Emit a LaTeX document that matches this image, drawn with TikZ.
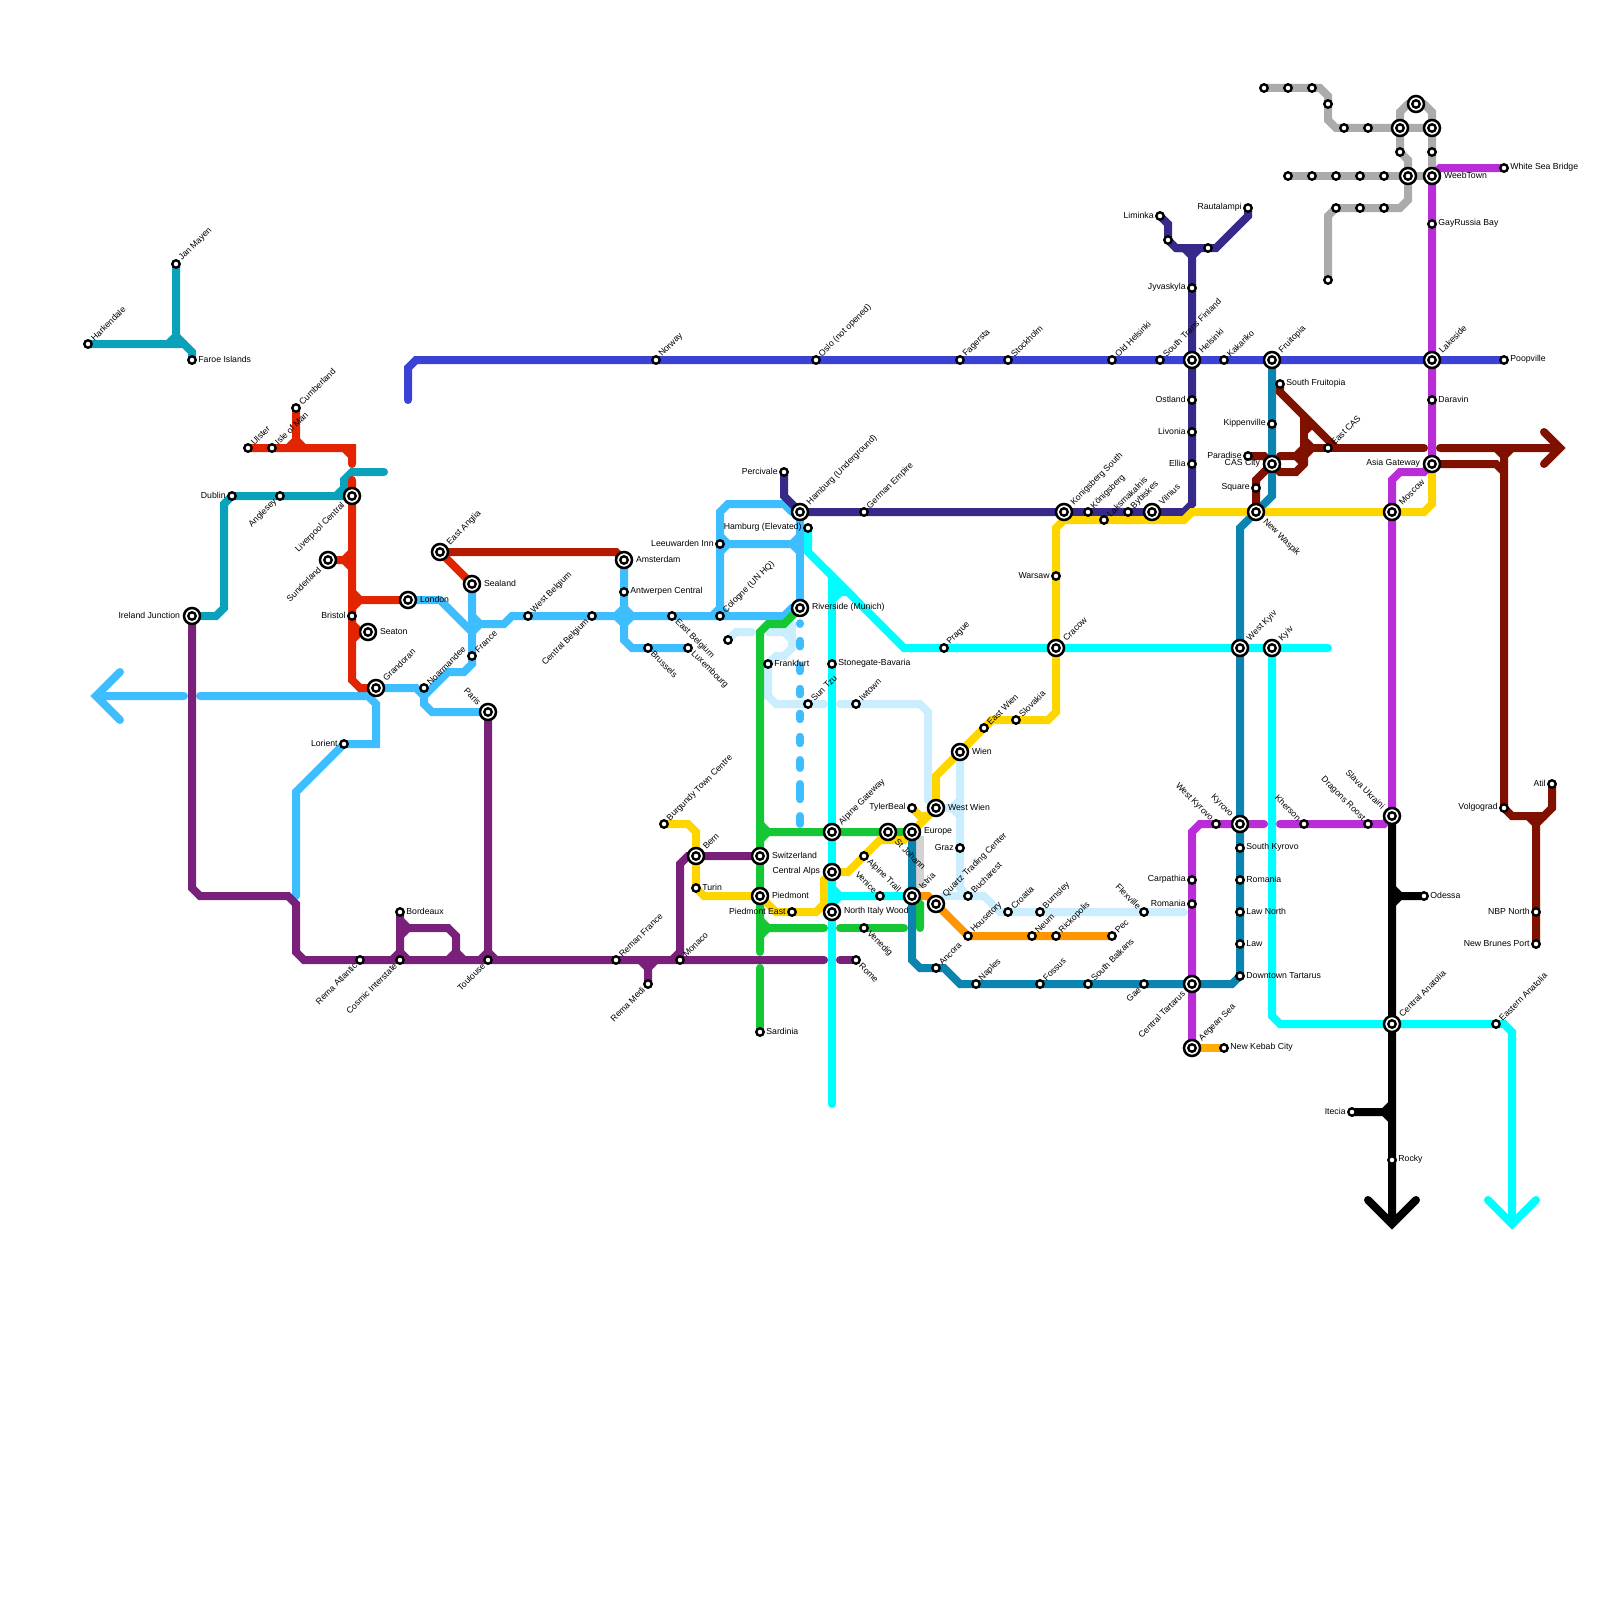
\documentclass[tikz,border=0pt]{standalone}
\usepackage{fontspec}
\setmainfont{Liberation Sans}
\usetikzlibrary{backgrounds}
\definecolor{cteal}{HTML}{0AA1BB}
\definecolor{cred}{HTML}{E32400}
\definecolor{cdred}{HTML}{B51A00}
\definecolor{croyal}{HTML}{3A41D3}
\definecolor{cnavy}{HTML}{352A8A}
\definecolor{clblue}{HTML}{3EBEFF}
\definecolor{cpale}{HTML}{CBEEFF}
\definecolor{cgreen}{HTML}{15C735}
\definecolor{ccyan}{HTML}{00FDFF}
\definecolor{cyellow}{HTML}{FFD500}
\definecolor{cpurple}{HTML}{79207A}
\definecolor{cviolet}{HTML}{B92DD6}
\definecolor{cgray}{HTML}{ABABAB}
\definecolor{clgray}{HTML}{D3D3D3}
\definecolor{cpetrol}{HTML}{0B85B0}
\definecolor{corange}{HTML}{FF9500}
\definecolor{camber}{HTML}{FFAB00}
\definecolor{cmaroon}{HTML}{801000}
\tikzset{
  x=8pt,y=-8pt,
  ln/.style={line width=8pt,line cap=round,line join=miter},
  smst/.style={circle,draw=black,fill=white,line width=2.4pt,minimum size=7.4pt,inner sep=0pt},
  bgst/.style={circle,draw=black,fill=white,line width=2.5pt,minimum size=16pt,inner sep=0pt},
  lab/.style={font=\fontsize{8.7}{10}\selectfont,text=black,inner sep=0pt},
}
\newcommand\lbR[3]{\path (#1.center) ++(0:#2) node[lab,anchor=west,yshift=.6pt] (#1-t) {#3};}
\newcommand\lbL[3]{\path (#1.center) ++(180:#2) node[lab,anchor=east,yshift=.6pt] (#1-t) {#3};}
\newcommand\lbUR[3]{\path (#1.center) ++(45:#2) node[lab,rotate=45,anchor=west] (#1-t) {#3};}
\newcommand\lbLL[3]{\path (#1.center) ++(225:#2) node[lab,rotate=45,anchor=east] (#1-t) {#3};}
\newcommand\lbLR[3]{\path (#1.center) ++(-45:#2) node[lab,rotate=-45,anchor=west] (#1-t) {#3};}
\newcommand\lbUL[3]{\path (#1.center) ++(135:#2) node[lab,rotate=-45,anchor=east] (#1-t) {#3};}
\newcommand\st[4]{\node[smst] (#1) at (#2) {};\csname lb#3\endcsname{#1}{6.2pt}{#4}}
\newcommand\bg[4]{\node[bgst] (#1) at (#2) {};\node[smst] (#1-i) at (#2) {};\csname lb#3\endcsname{#1}{11.8pt}{#4}}
\newcommand\stn[2]{\node[smst] (#1) at (#2) {};}
\newcommand\bgn[2]{\node[bgst] (#1) at (#2) {};\node[smst] (#1-i) at (#2) {};}
\begin{document}
\begin{tikzpicture}
\useasboundingbox (0,0) rectangle (200,200);
% ---- stations ----
\st{hark}{11,43}{UR}{Harkendale}
\st{jan}{22,33}{UR}{Jan Mayen}
\st{faroe}{24,45}{R}{Faroe Islands}
\st{cumb}{37,51}{UR}{Cumberland}
\st{ulster}{31,56}{UR}{Ulster}
\st{isle}{34,56}{UR}{Isle of Man}
\st{dublin}{29,62}{L}{Dublin}
\st{angl}{35,62}{LL}{Anglesey}
\bg{liver}{44,62}{LL}{Liverpool Central}
\bg{sund}{41,70}{LL}{Sunderland}
\st{bristol}{44,77}{L}{Bristol}
\bg{seaton}{46,79}{R}{Seaton}
\bg{london}{51,75}{R}{London}
\bg{ireland}{24,77}{L}{Ireland Junction}
\bg{grand}{47,86}{UR}{Grandoran}
\st{noar}{53,86}{UR}{Noarmandee}
\bg{eangl}{55,69}{UR}{East Anglia}
\bg{sealand}{59,73}{R}{Sealand}
\st{france}{59,82}{UR}{France}
\bg{paris}{61,89}{UL}{Paris}
\st{wbelg}{66,77}{UR}{West Belgium}
\st{cbelg}{74,77}{LL}{Central Belgium}
\st{lorient}{43,93}{L}{Lorient}
\st{bord}{50,114}{R}{Bordeaux}
\st{ratl}{45,120}{LL}{Rema Atlantic}
\st{cosmic}{50,120}{LL}{Cosmic Interstate}
\st{toul}{61,120}{LL}{Toulouse}
\st{reman}{77,120}{UR}{Reman France}
\st{rmedi}{81,123}{LL}{Rema Medi}
\st{monaco}{85,120}{UR}{Monaco}
\bg{amst}{78,70}{R}{Amsterdam}
\st{antw}{78,74}{R}{Antwerpen Central}
\st{norway}{82,45}{UR}{Norway}
\st{ebelg}{84,77}{LR}{East Belgium}
\st{bruss}{81,81}{LR}{Brussels}
\st{lux}{86,81}{LR}{Luxembourg}
\st{cologne}{90,77}{UR}{Cologne (UN HQ)}
\st{leeu}{90,68}{L}{Leeuwarden Inn}
\st{hamel}{101,66}{L}{Hamburg (Elevated)}
\bg{hamun}{100,64}{UR}{Hamburg (Underground)}
\st{perc}{98,59}{L}{Percivale}
\st{german}{108,64}{UR}{German Empire}
\st{oslo}{102,45}{UR}{Oslo (not opened)}
\bg{river}{100,76}{R}{Riverside (Munich)}
\stn{unlp}{91,80}
\st{frank}{96,83}{R}{Frankfurt}
\st{stone}{104,83}{R}{Stonegate-Bavaria}
\st{suntzu}{101,88}{UR}{Sun Tzu}
\st{iwtown}{107,88}{UR}{Iwtown}
\st{prague}{118,81}{UR}{Prague}
\st{fager}{120,45}{UR}{Fagersta}
\st{stock}{126,45}{UR}{Stockholm}
\st{oldhel}{139,45}{UR}{Old Helsinki}
\st{strans}{145,45}{UR}{South Trans Finland}
\bg{helsinki}{149,45}{UR}{Helsinki}
\st{kaka}{153,45}{UR}{Kakariko}
\bg{fruit}{159,45}{UR}{Fruitopia}
\bg{lake}{179,45}{UR}{Lakeside}
\st{poop}{188,45}{R}{Poopville}
\st{limin}{145,27}{L}{Liminka}
\stn{unla}{146,30}
\stn{unlb}{151,31}
\st{rauta}{156,26}{L}{Rautalampi}
\st{jyva}{149,36}{L}{Jyvaskyla}
\st{ostl}{149,50}{L}{Ostland}
\st{livo}{149,54}{L}{Livonia}
\st{ellia}{149,58}{L}{Ellia}
\st{kipp}{159,53}{L}{Kippenville}
\st{sfruit}{160,48}{R}{South Fruitopia}
\st{dara}{179,50}{R}{Daravin}
\st{gayr}{179,28}{R}{GayRussia Bay}
\bg{weeb}{179,22}{R}{WeebTown}
\st{white}{188,21}{R}{White Sea Bridge}
\st{ecas}{166,56}{UR}{East CAS}
\st{para}{156,57}{L}{Paradise}
\bg{cas}{159,58}{L}{CAS City}
\st{square}{157,61}{L}{Square}
\bg{waspik}{157,64}{LR}{New Waspik}
\bg{asia}{179,58}{L}{Asia Gateway}
\bg{moscow}{174,64}{UR}{Moscow}
\bg{vilnius}{144,64}{UR}{Vilnius}
\st{bybi}{141,64}{UR}{Bybiskes}
\st{laks}{138,65}{UR}{Laksmakalnis}
\st{konig}{136,64}{UR}{Königsberg}
\bg{konigs}{133,64}{UR}{Konigsberg South}
\st{warsaw}{132,72}{L}{Warsaw}
\bg{cracow}{132,81}{UR}{Cracow}
\bg{wkyiv}{155,81}{UR}{West Kyiv}
\bg{kyiv}{159,81}{UR}{Kyiv}
\st{slovak}{127,90}{UR}{Slovakia}
\st{ewien}{123,91}{UR}{East Wien}
\bg{wien}{120,94}{R}{Wien}
\bg{wwien}{117,101}{R}{West Wien}
\st{tyler}{114,101}{L}{TylerBeal}
\bg{europe}{114,104}{R}{Europe}
\bg{johann}{111,104}{LR}{St Johann}
\bg{alpgw}{104,104}{UR}{Alpine Gateway}
\st{alptr}{108,107}{LR}{Alpine Trail}
\st{graz}{120,106}{L}{Graz}
\bg{bern}{87,107}{UR}{Bern}
\st{burg}{83,103}{UR}{Burgundy Town Centre}
\bg{swiss}{95,107}{R}{Switzerland}
\bg{calps}{104,109}{L}{Central Alps}
\st{turin}{87,111}{R}{Turin}
\bg{piedm}{95,112}{R}{Piedmont}
\st{piede}{99,114}{L}{Piedmont East}
\bg{nitaly}{104,114}{R}{North Italy Wood}
\st{venice}{110,112}{UL}{Venice}
\bg{istria}{114,112}{UR}{Istria}
\bg{quartz}{117,113}{UR}{Quartz Trading Center}
\st{buch}{121,112}{UR}{Bucharest}
\st{croat}{126,114}{UR}{Croatia}
\st{burn}{130,114}{UR}{Burnsley}
\st{neum}{129,117}{UR}{Neum}
\st{rick}{132,117}{UR}{Rickopolis}
\st{pec}{139,117}{UR}{Pec}
\st{house}{121,117}{UR}{Housetory}
\st{vene}{108,116}{LR}{Venedig}
\st{rome}{107,120}{LR}{Rome}
\st{ancora}{117,121}{UR}{Ancora}
\st{naples}{122,123}{UR}{Naples}
\st{fossus}{130,123}{UR}{Fossus}
\st{sbalk}{136,123}{UR}{South Balkans}
\st{gae}{143,123}{LL}{Gae}
\bg{ctart}{149,123}{LL}{Central Tartarus}
\bg{aegean}{149,131}{UR}{Aegean Sea}
\st{kebab}{153,131}{R}{New Kebab City}
\st{wkyr}{152,103}{UL}{West Kyrovo}
\bg{kyrovo}{155,103}{UL}{Kyrovo}
\st{skyr}{155,106}{R}{South Kyrovo}
\st{romr}{155,110}{R}{Romania}
\st{carp}{149,110}{L}{Carpathia}
\st{roml}{149,113}{L}{Romania}
\st{lawn}{155,114}{R}{Law North}
\st{law}{155,118}{R}{Law}
\st{dtart}{155,122}{R}{Downtown Tartarus}
\st{flex}{143,114}{UL}{Flexville}
\st{kherson}{163,103}{UL}{Kherson}
\st{dragon}{171,103}{UL}{Dragons Roost}
\bg{slava}{174,102}{UL}{Slava Ukraini}
\bg{canat}{174,128}{UR}{Central Anatolia}
\st{eanat}{187,128}{UR}{Eastern Anatolia}
\st{odessa}{178,112}{R}{Odessa}
\st{volgo}{188,101}{L}{Volgograd}
\st{atil}{194,98}{L}{Atil}
\st{nbp}{192,114}{L}{NBP North}
\st{brunes}{192,118}{L}{New Brunes Port}
\st{sard}{95,129}{R}{Sardinia}
\st{itecia}{169,139}{L}{Itecia}
\st{rocky}{174,145}{R}{Rocky}
% gray line stations
\stn{ga}{158,11}\stn{gb}{161,11}\stn{gc}{164,11}\stn{gd}{166,13}
\stn{ge}{168,16}\stn{gf}{171,16}\bgn{gg}{175,16}\bgn{gh}{177,13}\bgn{gi}{179,16}
\stn{gj}{175,19}\stn{gk}{179,19}\bgn{gl}{176,22}
\stn{gm}{161,22}\stn{gn}{164,22}\stn{go}{167,22}\stn{gp}{170,22}\stn{gq}{173,22}
\stn{gr}{167,26}\stn{gs}{170,26}\stn{gt}{173,26}\stn{gu}{166,35}
% ---- lines ----
\begin{pgfonlayer}{background}
\fill[white] (0,0) rectangle (200,200);
% pale
\draw[ln,cpale] (unlp.center) -- (92,79) -- (94,79);
\draw[ln,cpale] (96,79) -- (98,79) -- (99,80) -- (99,81) -- (98,82) -- (97,82) -- (frank.center) -- (96,87) -- (97,88) -- (103,88);
\draw[ln,cpale] (99,81) -- (99,78);
\draw[ln,cpale] (99,78) -- (98,79);
\draw[ln,cpale] (105,88) -- (115,88) -- (116,89) -- (116,100) -- (wwien.center);
\draw[ln,cpale] (wien.center) -- (120,111) -- (buch.center) -- (123,112) -- (125,114) -- (148,114);
\draw[ln,cpale] (118,112) -- (buch.center);
\draw[ln,cpale] (wwien.center) -- (119,101) -- (120,100) (119,101) -- (120,102);
% greys
\draw[line width=8pt,clgray] (115,104.5) -- (115,111);
\draw[ln,cgray] (ga.center) -- (165,11) -- (166,12) -- (166,15) -- (167,16) -- (gi.center);
\draw[ln,cgray] (gg.center) -- (175,14) -- (176,13) -- (178,13) -- (179,14) -- (weeb.center);
\draw[ln,cgray] (gg.center) -- (gj.center) -- (176,20) -- (176,25) -- (175,26) -- (167,26) -- (166,27) -- (gu.center);
\draw[ln,cgray] (gm.center) -- (weeb.center);
% light blue
\draw[ln,clblue] (london.center) -- (55,75) -- (59,79) -- (60,78) -- (63,78) -- (64,77) -- (98,77) -- (99,76) -- (river.center);
\draw[ln,clblue] (sealand.center) -- (59,83) -- (58,84) -- (56,84) -- (53,87);
\draw[ln,clblue] (59,77) -- (60,78);
\draw[ln,clblue] (grand.center) -- (52,86) -- (53,87);
\draw[ln,clblue] (noar.center) -- (53,88) -- (54,89) -- (paris.center);
\draw[ln,clblue] (25,87) -- (46,87) -- (47,88) -- (47,93) -- (lorient.center) -- (37,99) -- (37,112);
\draw[ln,clblue] (15,84) -- (12,87) -- (15,90) (12,87) -- (23,87);
\draw[ln,clblue] (amst.center) -- (78,80) -- (79,81) -- (lux.center);
\draw[ln,clblue,fill=clblue] (77,77) -- (78,76) -- (79,77) -- (78,78) -- cycle;
\draw[ln,clblue] (89,77) -- (90,76) -- (90,64) -- (91,63) -- (98,63) -- (99,64);
\draw[ln,clblue] (90,76) -- (91,77);
\draw[ln,clblue] (90,69) -- (91,68) -- (90,67) (91,68) -- (99,68) -- (100,67) (99,68) -- (100,69);
\draw[ln,clblue] (hamun.center) -- (river.center);
\foreach \a/\b in {77.9/78,80.1/80.8,83.2/83.9,86.1/86.8,89.2/89.9,92.1/92.9,95/96,98/99.9,102/103}
  \draw[ln,clblue] (100,\a) -- (100,\b);
% teal
\draw[ln,cteal] (hark.center) -- (23,43) -- (24,44) -- (faroe.center);
\draw[ln,cteal] (jan.center) -- (22,42) -- (21,43) (22,42) -- (23,43);
\draw[ln,cteal] (ireland.center) -- (27,77) -- (28,76) -- (28,63) -- (dublin.center) -- (liver.center);
\draw[ln,cteal] (42,62) -- (43,61) -- (43,60) -- (44,59) -- (48,59);
% royal
\draw[ln,croyal] (51,50) -- (51,46) -- (52,45) -- (poop.center);
% navy
\draw[ln,cnavy] (perc.center) -- (98,62) -- (hamun.center) -- (148,64) -- (149,63) -- (149,32) -- (148,31) -- (147,31) -- (146,30) -- (146,28) -- (limin.center);
\draw[ln,cnavy] (149,32) -- (150,31);
\draw[ln,cnavy] (147,31) -- (152,31) -- (156,27) -- (rauta.center);
% red
\draw[ln,cred] (ulster.center) -- (44,56) -- (44,58) (43,56) -- (44,57);
\draw[ln,cred] (cumb.center) -- (37,55) -- (36,56) (37,55) -- (38,56);
\draw[ln,cred] (44,60) -- (44,85) -- (45,86) -- (grand.center);
\draw[ln,cred] (sund.center) -- (43,70) -- (44,69) (43,70) -- (44,71);
\draw[ln,cred] (london.center) -- (45,75) -- (44,74) (45,75) -- (44,76);
\draw[ln,cred] (seaton.center) -- (45,79) -- (44,78) (45,79) -- (44,80);
\draw[ln,cred] (eangl.center) -- (sealand.center);
\draw[ln,cdred] (eangl.center) -- (77,69) -- (amst.center);
% green
\draw[ln,cgreen] (river.center) -- (98,78) -- (96,78) -- (95,79) -- (95,119);
\draw[ln,cgreen] (95,121) -- (sard.center);
\draw[ln,cgreen] (95,103) -- (96,104) -- (95,105) (96,104) -- (europe.center);
\draw[ln,cgreen] (95,115) -- (96,116) -- (95,117) (96,116) -- (103,116);
\draw[ln,cgreen] (105,116) -- (113,116);
\draw[ln,cgreen] (istria.center) -- (115,113) -- (115,116);
% orange, petrol
\draw[ln,corange] (istria.center) -- (116,112) -- (quartz.center) -- (house.center) -- (pec.center);
\draw[ln,camber] (aegean.center) -- (kebab.center);
\draw[ln,cpetrol] (fruit.center) -- (159,62) -- (155,66) -- (155,122) -- (154,123) -- (120,123) -- (118,121) -- (115,121) -- (114,120) -- (europe.center);
% yellow
\draw[ln,cyellow] (burg.center) -- (86,103) -- (87,104) -- (87,111) -- (88,112) -- (piedm.center) -- (97,114) -- (102,114) -- (103,113) -- (103,110) -- (calps.center) -- (106,109) -- (110,105) -- (johann.center);
\draw[ln,cyellow] (110,105) -- (113,105) -- (europe.center) -- (wwien.center);
\draw[ln,cyellow] (tyler.center) -- (115,102) -- (116,102);
\draw[ln,cyellow] (wwien.center) -- (117,97) -- (wien.center) -- (ewien.center) -- (124,90) -- (131,90) -- (132,89) -- (132,66) -- (133,65) -- (148,65) -- (149,64) -- (178,64) -- (179,63) -- (asia.center);
% purple
\draw[ln,cpurple] (ireland.center) -- (24,111) -- (25,112) -- (36,112) -- (37,113) -- (37,119) -- (38,120) -- (103,120);
\draw[ln,cpurple] (105,120) -- (rome.center);
\draw[ln,cpurple] (bord.center) -- (50,119) -- (49,120) (50,119) -- (51,120);
\draw[ln,cpurple] (50,115) -- (51,116) -- (50,117) (51,116) -- (56,116) -- (57,117) -- (57,119) -- (56,120) (57,119) -- (58,120);
\draw[ln,cpurple] (paris.center) -- (61,119) -- (60,120) (61,119) -- (62,120);
\draw[ln,cpurple] (rmedi.center) -- (81,121) -- (80,120) (81,121) -- (82,120);
\draw[ln,cpurple] (swiss.center) -- (86,107) -- (85,108) -- (85,119) -- (84,120) (85,119) -- (monaco.center);
% violet
\draw[ln,cviolet] (white.center) -- (180,21) -- (weeb.center) -- (asia.center) -- (178,59) -- (175,59) -- (174,60) -- (slava.center) -- (173,103) -- (160,103);
\draw[ln,cviolet] (158,103) -- (150,103) -- (149,104) -- (aegean.center);
% maroon
\draw[ln,cmaroon] (sfruit.center) -- (160,49) -- (167,56);
\draw[ln,cmaroon] (163,52) -- (163,56) -- (164,56) -- (178,56);
\draw[ln,cmaroon] (163,55) -- (164,56) (163,54) -- (164,53);
\draw[ln,cmaroon] (180,56) -- (195,56) (193,54) -- (195,56) -- (193,58);
\draw[ln,cmaroon] (para.center) -- (158,57) -- (cas.center);
\draw[ln,cmaroon] (160,57) -- (162,57) -- (163,56);
\draw[ln,cmaroon] (162,57) -- (163,58);
\draw[ln,cmaroon] (163,58) -- (163,57) -- (164,56);
\draw[ln,cmaroon] (163,58) -- (162,59) -- (160,59) -- (cas.center) -- (157,60) -- (waspik.center);
\draw[ln,cmaroon] (asia.center) -- (187,58) -- (188,59);
\draw[ln,cmaroon] (187,56) -- (188,57) -- (189,56) (188,57) -- (volgo.center) -- (189,102) -- (193,102) -- (194,101) -- (atil.center);
\draw[ln,cmaroon] (191,102) -- (192,103) -- (193,102) (192,103) -- (brunes.center);
% cyan
\draw[ln,ccyan] (hamel.center) -- (101,69) -- (113,81) -- (166,81);
\draw[ln,ccyan] (104,72) -- (104,138);
\draw[ln,ccyan,fill=ccyan] (104,72) -- (106,74) -- (105,74) -- (104,75) -- cycle;
\draw[ln,ccyan] (104,111) -- (105,112) -- (104,113) (105,112) -- (istria.center);
\draw[ln,ccyan] (kyiv.center) -- (159,127) -- (160,128) -- (188,128) -- (189,129) -- (189,153);
\draw[ln,ccyan] (186,150) -- (189,153) -- (192,150);
% black
\draw[ln,black] (slava.center) -- (174,153) (171,150) -- (174,153) -- (177,150);
\draw[ln,black] (odessa.center) -- (175,112) -- (174,111) (175,112) -- (174,113);
\draw[ln,black] (itecia.center) -- (173,139) -- (174,138) (173,139) -- (174,140);
\end{pgfonlayer}
\end{tikzpicture}
\end{document}
